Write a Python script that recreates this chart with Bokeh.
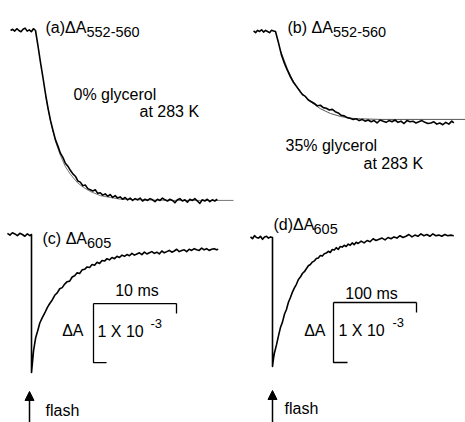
from bokeh.plotting import figure
from bokeh.models import Range1d, Label, Arrow, NormalHead
from bokeh.embed import file_html
from bokeh.resources import INLINE

# ---------------- data (time in ms, absorbance change in units of 1e-3) ----------------
# (a) ΔA552-560, 0% glycerol
t_a = [-3.0, -2.75, -2.5, -2.25, -2.0, -1.75, -1.5, -1.25, -1.0, -0.75, -0.5, -0.25, 0.0,
       0.3, 0.6, 0.9, 1.2, 1.5, 1.8, 2.1, 2.4, 2.7, 3.0, 3.3, 3.6, 3.9, 4.2, 4.5, 4.8, 5.1,
       5.4, 5.7, 6.0, 6.3, 6.6, 6.9, 7.2, 7.5, 7.8, 8.1, 8.4, 8.7, 9.0, 9.3, 9.6, 9.9,
       10.2, 10.5, 10.8, 11.1, 11.4, 11.7, 12.0, 12.3, 12.6, 12.9, 13.2, 13.5, 13.8, 14.1,
       14.4, 14.7, 15.0, 15.3, 15.6, 15.9, 16.2, 16.5, 16.8, 17.1, 17.4, 17.7, 18.0, 18.3,
       18.6, 18.9, 19.2, 19.5, 19.8, 20.1, 20.4, 20.7, 21.0, 21.3, 21.6, 21.9]
dA_a = [0.0, 0.02, -0.01, 0.03, 0.0, -0.02, 0.02, 0.04, -0.01, 0.01, -0.02, 0.03, 0.0,
        -0.26, -0.54, -0.80, -1.07, -1.31, -1.52, -1.69, -1.85, -1.96, -2.08, -2.15, -2.25,
        -2.30, -2.37, -2.43, -2.47, -2.55, -2.57, -2.63, -2.62, -2.68, -2.70, -2.72, -2.70,
        -2.76, -2.75, -2.79, -2.77, -2.81, -2.78, -2.83, -2.80, -2.84, -2.82, -2.86, -2.83,
        -2.87, -2.84, -2.88, -2.85, -2.87, -2.84, -2.89, -2.86, -2.88, -2.85, -2.87, -2.90,
        -2.86, -2.88, -2.84, -2.87, -2.89, -2.86, -2.88, -2.92, -2.87, -2.85, -2.89, -2.87,
        -2.91, -2.86, -2.88, -2.85, -2.89, -2.93, -2.87, -2.89, -2.86, -2.90, -2.87, -2.89,
        -2.86]
t_a_fit = [1.2, 1.81, 2.41, 3.01, 3.61, 4.22, 5.06, 5.78, 6.63, 7.83, 9.04, 10.24, 12.65, 16.27, 23.86]
dA_a_fit = [-1.10, -1.54, -1.88, -2.12, -2.31, -2.44, -2.58, -2.66, -2.73, -2.80, -2.83, -2.86,
            -2.87, -2.88, -2.88]

# (b) ΔA552-560, 35% glycerol
t_b = [-26.4, -24.0, -21.6, -19.2, -16.8, -14.4, -12.0, -9.6, -7.2, -4.8, -2.4, 0.0,
       3.6, 7.2, 10.8, 14.4, 18.0, 21.6, 25.2, 28.8, 32.4, 36.0, 39.6, 43.2, 46.8, 50.4,
       54.0, 57.6, 61.2, 64.8, 68.4, 72.0, 75.6, 79.2, 82.8, 86.4, 90.0, 93.6, 97.2, 100.8,
       104.4, 108.0, 111.6, 115.2, 118.8, 122.4, 126.0, 129.6, 133.2, 136.8, 140.4, 144.0,
       147.6, 151.2, 154.8, 158.4, 162.0, 165.6, 169.2, 172.8, 176.4, 180.0, 183.6, 187.2,
       190.8, 194.4, 198.0, 201.6, 205.2, 208.8, 212.4, 214.8]
dA_b = [0.01, -0.02, 0.02, 0.0, 0.03, -0.01, 0.02, 0.0, -0.02, 0.02, 0.01, 0.0,
        -0.19, -0.40, -0.54, -0.66, -0.77, -0.86, -0.93, -1.00, -1.07, -1.10, -1.16, -1.19,
        -1.22, -1.26, -1.25, -1.29, -1.30, -1.33, -1.32, -1.36, -1.38, -1.42, -1.43, -1.46,
        -1.47, -1.49, -1.48, -1.51, -1.49, -1.52, -1.50, -1.53, -1.51, -1.55, -1.50, -1.52,
        -1.54, -1.51, -1.53, -1.50, -1.54, -1.52, -1.56, -1.51, -1.53, -1.52, -1.55, -1.53,
        -1.51, -1.54, -1.56, -1.55, -1.53, -1.57, -1.55, -1.58, -1.54, -1.57, -1.52, -1.55]
t_b_fit = [6.0, 14.5, 21.7, 30.1, 42.2, 54.2, 66.3, 78.3, 90.4, 102.4, 126.5, 228.9]
dA_b_fit = [-0.32, -0.64, -0.85, -1.02, -1.19, -1.31, -1.39, -1.44, -1.47, -1.48, -1.49, -1.49]

# (c) ΔA605, 0% glycerol
t_c = [-2.9, -2.6, -2.3, -2.0, -1.7, -1.4, -1.1, -0.8, -0.5, -0.2, 0.0, 0.0,
       0.25, 0.5, 0.75, 1.0, 1.3, 1.6, 1.9, 2.2, 2.5, 2.8, 3.1, 3.4, 3.7, 4.0, 4.3, 4.6,
       4.9, 5.2, 5.5, 5.8, 6.1, 6.4, 6.7, 7.0, 7.3, 7.6, 7.9, 8.2, 8.5, 8.8, 9.1, 9.4,
       9.7, 10.0, 10.3, 10.6, 10.9, 11.2, 11.5, 11.8, 12.1, 12.4, 12.7, 13.0, 13.3, 13.6,
       13.9, 14.2, 14.5, 14.8, 15.1, 15.4, 15.7, 16.0, 16.3, 16.6, 16.9, 17.2, 17.5, 17.8,
       18.1, 18.4, 18.7, 19.0, 19.3, 19.6, 19.9, 20.2, 20.5, 20.8, 21.1, 21.4, 21.7, 22.0,
       22.3, 22.5]
dA_c = [0.02, -0.01, 0.03, 0.01, -0.02, 0.02, 0.0, -0.03, 0.01, -0.02, 0.0, -2.34,
        -1.97, -1.75, -1.63, -1.50, -1.41, -1.33, -1.24, -1.17, -1.11, -1.03, -0.99, -0.92,
        -0.90, -0.84, -0.80, -0.79, -0.72, -0.70, -0.65, -0.66, -0.60, -0.59, -0.55, -0.56,
        -0.51, -0.52, -0.47, -0.49, -0.44, -0.45, -0.41, -0.43, -0.39, -0.41, -0.37, -0.39,
        -0.35, -0.37, -0.34, -0.36, -0.32, -0.35, -0.33, -0.31, -0.34, -0.30, -0.33, -0.31,
        -0.29, -0.32, -0.30, -0.33, -0.28, -0.31, -0.29, -0.27, -0.30, -0.28, -0.25, -0.29,
        -0.27, -0.26, -0.29, -0.25, -0.27, -0.24, -0.26, -0.27, -0.23, -0.26, -0.24, -0.27,
        -0.25, -0.24, -0.26, -0.25]

# (d) ΔA605, 35% glycerol
t_d = [-26.5, -24.1, -21.7, -19.3, -16.9, -14.5, -12.0, -9.6, -7.2, -4.8, -2.4, 0.0, 0.0,
       1.2, 2.4, 4.8, 7.2, 9.6, 12.0, 14.4, 16.8, 19.2, 21.6, 24.0, 26.4, 28.8, 31.2, 33.6,
       36.0, 38.4, 40.8, 43.2, 45.6, 48.0, 50.4, 52.8, 55.2, 57.6, 60.0, 62.4, 64.8, 67.2,
       69.6, 72.0, 74.4, 76.8, 79.2, 81.6, 84.0, 86.4, 88.8, 91.2, 93.6, 96.0, 98.4, 100.8,
       103.2, 106.8, 110.4, 114.0, 117.6, 121.2, 124.8, 128.4, 132.0, 135.6, 139.2, 142.8,
       146.4, 150.0, 153.6, 157.2, 160.8, 164.4, 168.0, 171.6, 175.2, 178.8, 182.4, 186.0,
       189.6, 193.2, 196.8, 200.4, 204.0, 207.6, 211.2, 214.8, 218.4]
dA_d = [0.01, -0.02, 0.03, 0.0, -0.01, 0.02, -0.03, 0.01, 0.02, -0.01, 0.01, 0.0, -2.15,
        -2.02, -1.92, -1.79, -1.64, -1.50, -1.41, -1.28, -1.20, -1.08, -1.00, -0.91, -0.84,
        -0.78, -0.70, -0.66, -0.60, -0.57, -0.52, -0.47, -0.45, -0.41, -0.39, -0.35, -0.34,
        -0.30, -0.31, -0.27, -0.26, -0.23, -0.25, -0.20, -0.21, -0.17, -0.20, -0.15, -0.16,
        -0.13, -0.15, -0.11, -0.13, -0.09, -0.12, -0.08, -0.10, -0.06, -0.09, -0.05, -0.07,
        -0.02, -0.05, -0.03, -0.01, -0.04, 0.00, -0.02, 0.01, -0.01, 0.03, 0.00, 0.02, 0.05,
        0.01, 0.04, 0.02, 0.06, 0.03, 0.05, 0.02, 0.06, 0.03, 0.04, 0.02, 0.05, 0.03, 0.04,
        0.03]

# ---------------- layout ----------------
W, H = 465, 422
FONT = "Liberation Sans"
# pixel anchor of (t=0, dA=0) and pixels per unit for each panel
PANELS = {
    "a": (35, 8.3, 30, 59),
    "b": (275, 0.83, 31, 59),
    "c": (31, 8.3, 234, 59),
    "d": (272, 0.83, 237, 60),
}

p = figure(width=W, height=H, x_range=Range1d(0, W), y_range=Range1d(0, H),
           x_axis_type=None, y_axis_type=None, toolbar_location=None,
           output_backend="svg", min_border=0, outline_line_color=None,
           background_fill_color="white", border_fill_color="white")
p.grid.visible = False

for k, (x0, sx, y0, sy) in PANELS.items():
    p.extra_x_ranges["x" + k] = Range1d(-x0 / sx, (W - x0) / sx)
    p.extra_y_ranges["y" + k] = Range1d((y0 - H) / sy, y0 / sy)


def rn(k):
    return dict(x_range_name="x" + k, y_range_name="y" + k)


def label(k, x, y, text, size=16, align="left", base="middle"):
    p.add_layout(Label(x=x, y=y, text=text, text_font=FONT, text_font_size=f"{size}px",
                       text_align=align, text_baseline=base, text_color="black", **rn(k)))


def scalebar(k, tx0, tlen, ytop, alen, tick, foot):
    p.line([tx0, tx0 + tlen], [ytop, ytop], line_color="black", line_width=1.3, **rn(k))
    p.line([tx0 + tlen, tx0 + tlen], [ytop, ytop - tick], line_color="black", line_width=1.3, **rn(k))
    p.line([tx0, tx0, tx0 + foot], [ytop, ytop - alen, ytop - alen], line_color="black",
           line_width=1.3, **rn(k))


# fits (thin) then data traces
p.line(t_a_fit, dA_a_fit, line_color="#666666", line_width=0.9, **rn("a"))
p.line(t_b_fit, dA_b_fit, line_color="#444444", line_width=0.9, **rn("b"))
for k, tt, yy in (("a", t_a, dA_a), ("b", t_b, dA_b), ("c", t_c, dA_c), ("d", t_d, dA_d)):
    p.line(tt, yy, line_color="black", line_width=1.6, line_join="round", **rn(k))

# panel titles
label("a", 1.2, 0.05, "(a)ΔA", base="alphabetic")
label("a", 6.14, -0.02, "552-560", size=14.5, base="alphabetic")
label("b", 14.5, 0.068, "(b) ΔA", base="alphabetic")
label("b", 69.2, 0.0, "552-560", size=14.5, base="alphabetic")
label("c", 1.33, -0.068, "(c) ΔA", base="alphabetic")
label("c", 6.69, -0.136, "605", size=14.5, base="alphabetic")
label("d", 1.2, 0.22, "(d)ΔA", base="alphabetic")
label("d", 49.4, 0.15, "605", size=14.5, base="alphabetic")

# conditions
label("a", 4.58, -1.08, "0% glycerol")
label("a", 12.53, -1.37, "at 283 K")
label("b", 12.05, -1.93, "35% glycerol")
label("b", 106.0, -2.24, "at 283 K")

# scale bars: 10 ms / 100 ms and 1 x 10^-3
scalebar("c", 7.47, 10.0, -1.17, 1.0, 0.17, 1.57)
label("c", 12.71, -0.95, "10 ms", align="center")
label("c", 6.27, -1.63, "ΔA", align="right")
label("c", 7.95, -1.64, "1 X 10")
label("c", 14.34, -1.51, "-3", size=13)

scalebar("d", 73.5, 100.0, -1.083, 1.0, 0.167, 16.9)
label("d", 119.3, -0.93, "100 ms", align="center")
label("d", 63.9, -1.55, "ΔA", align="right")
label("d", 79.5, -1.55, "1 X 10")
label("d", 144.6, -1.42, "-3", size=13)

# flash arrows
p.add_layout(Arrow(x_start=-0.24, y_start=-3.19, x_end=-0.24, y_end=-2.66,
                   line_color="black", line_width=1.5,
                   end=NormalHead(size=9, fill_color="black", line_color="black"), **rn("c")))
label("c", 1.69, -2.98, "flash")
p.add_layout(Arrow(x_start=0.0, y_start=-3.08, x_end=0.0, y_end=-2.55,
                   line_color="black", line_width=1.5,
                   end=NormalHead(size=9, fill_color="black", line_color="black"), **rn("d")))
label("d", 14.5, -2.85, "flash")

open("out.html", "w").write(file_html(p, INLINE))
